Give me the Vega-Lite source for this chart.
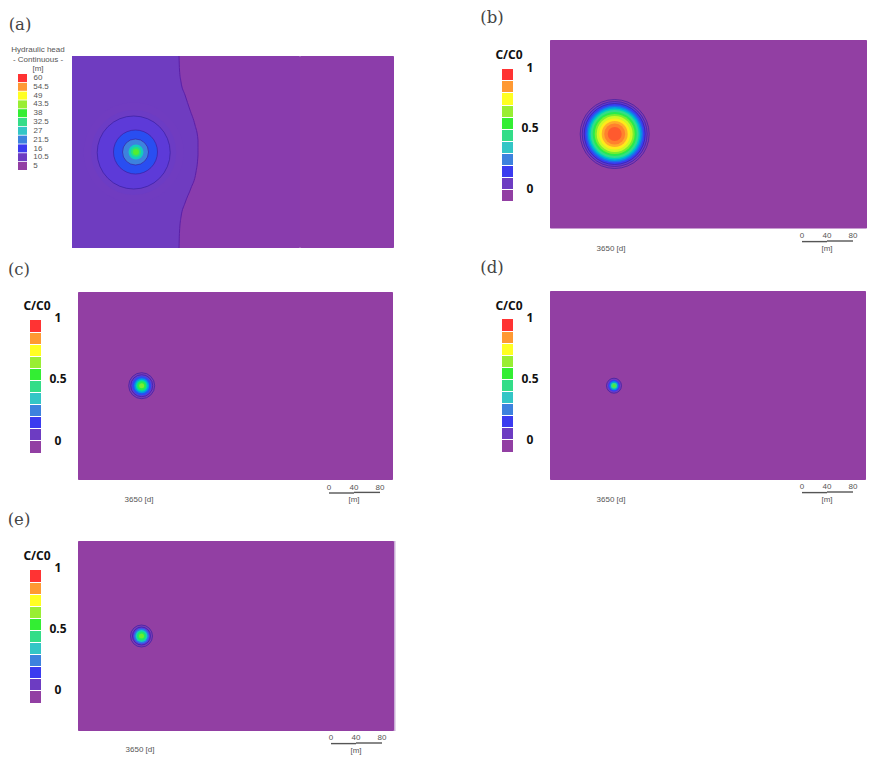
{"$schema":"https://vega.github.io/schema/vega-lite/v6.json","width":875,"height":759,"padding":0,"autosize":{"type":"fit","contains":"padding"},"background":"white","config":{"view":{"stroke":null}},
"datasets":{
"panels":[
{"panel":"a","x":72,"x2":300,"y":56,"y2":248,"level":0.035},
{"panel":"a","x":300,"x2":394,"y":56,"y2":248,"level":0.025},
{"panel":"b","x":550,"x2":867,"y":40,"y2":228.5,"level":0},
{"panel":"c","x":78,"x2":393,"y":292,"y2":480,"level":0},
{"panel":"d","x":550,"x2":866,"y":291,"y2":480,"level":0},
{"panel":"e","x":78,"x2":394,"y":541,"y2":731,"level":0}],
"edge":[{"panel":"e","x":394,"x2":395.5,"y":541,"y2":731}],
"boundary":[
{"x":179,"left":72,"y":56},{"x":179.5,"left":72,"y":70},{"x":181,"left":72,"y":82},{"x":185,"left":72,"y":95},{"x":190,"left":72,"y":110},{"x":195,"left":72,"y":125},{"x":198,"left":72,"y":140},{"x":198,"left":72,"y":155},{"x":196,"left":72,"y":172},{"x":191,"left":72,"y":188},{"x":185,"left":72,"y":203},{"x":181,"left":72,"y":217},{"x":179.5,"left":72,"y":232},{"x":179,"left":72,"y":248}],
"rings":[
{"panel":"a","x":133.7,"y":152.5,"d":100,"level":0.095},
{"panel":"a","x":133.7,"y":152.5,"d":85,"level":0.105},
{"panel":"a","x":133.7,"y":152.5,"d":73,"level":0.15},
{"panel":"a","x":135.5,"y":152,"d":44,"level":0.22},
{"panel":"a","x":135.5,"y":152,"d":26,"level":0.3},
{"panel":"a","x":136,"y":152,"d":15,"level":0.42},
{"panel":"a","x":136,"y":152,"d":10,"level":0.52},
{"panel":"a","x":136,"y":152,"d":6,"level":0.62},
{"panel":"b","x":614.7,"y":134,"d":69,"level":0.05},
{"panel":"b","x":614.7,"y":134,"d":65,"level":0.13},
{"panel":"b","x":614.7,"y":134,"d":61,"level":0.2},
{"panel":"b","x":614.7,"y":134,"d":57,"level":0.26},
{"panel":"b","x":614.7,"y":134,"d":54,"level":0.34},
{"panel":"b","x":614.7,"y":134,"d":51,"level":0.43},
{"panel":"b","x":614.7,"y":134,"d":48,"level":0.5},
{"panel":"b","x":614.7,"y":134,"d":44,"level":0.58},
{"panel":"b","x":614.7,"y":134,"d":40,"level":0.66},
{"panel":"b","x":614.7,"y":134,"d":36,"level":0.75},
{"panel":"b","x":614.7,"y":134,"d":31,"level":0.82},
{"panel":"b","x":614.7,"y":134,"d":26,"level":0.88},
{"panel":"b","x":614.7,"y":134,"d":21,"level":0.93},
{"panel":"b","x":614.7,"y":134,"d":14,"level":0.97},
{"panel":"c","x":141.7,"y":385.7,"d":26,"level":0.07},
{"panel":"c","x":141.7,"y":385.7,"d":22,"level":0.14},
{"panel":"c","x":141.7,"y":385.7,"d":19,"level":0.22},
{"panel":"c","x":141.7,"y":385.7,"d":15,"level":0.33},
{"panel":"c","x":141.7,"y":385.7,"d":12,"level":0.45},
{"panel":"c","x":141.7,"y":385.7,"d":9,"level":0.58},
{"panel":"c","x":141.7,"y":385.7,"d":5,"level":0.66},
{"panel":"d","x":614,"y":385.7,"d":15,"level":0.08},
{"panel":"d","x":614,"y":385.7,"d":12,"level":0.2},
{"panel":"d","x":614,"y":385.7,"d":9,"level":0.33},
{"panel":"d","x":614,"y":385.7,"d":6,"level":0.5},
{"panel":"d","x":614,"y":385.7,"d":3,"level":0.62},
{"panel":"e","x":141.5,"y":636,"d":22,"level":0.07},
{"panel":"e","x":141.5,"y":636,"d":18,"level":0.16},
{"panel":"e","x":141.5,"y":636,"d":15,"level":0.28},
{"panel":"e","x":141.5,"y":636,"d":12,"level":0.42},
{"panel":"e","x":141.5,"y":636,"d":9,"level":0.55},
{"panel":"e","x":141.5,"y":636,"d":5,"level":0.64}],
"contours":[
{"panel":"a","x":133.7,"y":152.5,"d":73},{"panel":"a","x":135.5,"y":152,"d":44},{"panel":"a","x":135.5,"y":152,"d":26},
{"panel":"b","x":614.7,"y":134,"d":69},{"panel":"b","x":614.7,"y":134,"d":65},{"panel":"b","x":614.7,"y":134,"d":61},
{"panel":"c","x":141.7,"y":385.7,"d":26},{"panel":"c","x":141.7,"y":385.7,"d":22},
{"panel":"d","x":614,"y":385.7,"d":15},
{"panel":"e","x":141.5,"y":636,"d":22},{"panel":"e","x":141.5,"y":636,"d":18}],
"swatches":[
{"x":18,"x2":27,"y":74,"y2":82,"level":1},{"x":18,"x2":27,"y":82.8,"y2":90.8,"level":0.9},{"x":18,"x2":27,"y":91.6,"y2":99.6,"level":0.8},{"x":18,"x2":27,"y":100.4,"y2":108.4,"level":0.7},{"x":18,"x2":27,"y":109.2,"y2":117.2,"level":0.6},{"x":18,"x2":27,"y":118,"y2":126,"level":0.5},{"x":18,"x2":27,"y":126.8,"y2":134.8,"level":0.4},{"x":18,"x2":27,"y":135.6,"y2":143.6,"level":0.3},{"x":18,"x2":27,"y":144.4,"y2":152.4,"level":0.2},{"x":18,"x2":27,"y":153.2,"y2":161.2,"level":0.1},{"x":18,"x2":27,"y":162,"y2":170,"level":0},
{"x":502,"x2":513,"y":69,"y2":80,"level":1},{"x":502,"x2":513,"y":81,"y2":92,"level":0.9},{"x":502,"x2":513,"y":93,"y2":105,"level":0.8},{"x":502,"x2":513,"y":106,"y2":117,"level":0.7},{"x":502,"x2":513,"y":118,"y2":129,"level":0.6},{"x":502,"x2":513,"y":130,"y2":141,"level":0.5},{"x":502,"x2":513,"y":142,"y2":153,"level":0.4},{"x":502,"x2":513,"y":154,"y2":165,"level":0.3},{"x":502,"x2":513,"y":166,"y2":177,"level":0.2},{"x":502,"x2":513,"y":178,"y2":189,"level":0.1},{"x":502,"x2":513,"y":190,"y2":201,"level":0},
{"x":30,"x2":41,"y":320,"y2":332,"level":1},{"x":30,"x2":41,"y":333,"y2":344,"level":0.9},{"x":30,"x2":41,"y":345,"y2":356,"level":0.8},{"x":30,"x2":41,"y":357,"y2":368,"level":0.7},{"x":30,"x2":41,"y":369,"y2":380,"level":0.6},{"x":30,"x2":41,"y":381,"y2":392,"level":0.5},{"x":30,"x2":41,"y":393,"y2":404,"level":0.4},{"x":30,"x2":41,"y":405,"y2":416,"level":0.3},{"x":30,"x2":41,"y":417,"y2":428,"level":0.2},{"x":30,"x2":41,"y":429,"y2":440,"level":0.1},{"x":30,"x2":41,"y":441,"y2":453,"level":0},
{"x":502,"x2":513,"y":319,"y2":331,"level":1},{"x":502,"x2":513,"y":332,"y2":343,"level":0.9},{"x":502,"x2":513,"y":344,"y2":355,"level":0.8},{"x":502,"x2":513,"y":356,"y2":367,"level":0.7},{"x":502,"x2":513,"y":368,"y2":379,"level":0.6},{"x":502,"x2":513,"y":380,"y2":391,"level":0.5},{"x":502,"x2":513,"y":392,"y2":403,"level":0.4},{"x":502,"x2":513,"y":404,"y2":415,"level":0.3},{"x":502,"x2":513,"y":416,"y2":427,"level":0.2},{"x":502,"x2":513,"y":428,"y2":439,"level":0.1},{"x":502,"x2":513,"y":440,"y2":452,"level":0},
{"x":30,"x2":41,"y":570,"y2":582,"level":1},{"x":30,"x2":41,"y":583,"y2":594,"level":0.9},{"x":30,"x2":41,"y":595,"y2":606,"level":0.8},{"x":30,"x2":41,"y":607,"y2":618,"level":0.7},{"x":30,"x2":41,"y":619,"y2":630,"level":0.6},{"x":30,"x2":41,"y":631,"y2":642,"level":0.5},{"x":30,"x2":41,"y":643,"y2":654,"level":0.4},{"x":30,"x2":41,"y":655,"y2":666,"level":0.3},{"x":30,"x2":41,"y":667,"y2":678,"level":0.2},{"x":30,"x2":41,"y":679,"y2":690,"level":0.1},{"x":30,"x2":41,"y":691,"y2":703,"level":0}],
"bars":[
{"x":802,"x2":827,"y":241.6},{"x":827,"x2":853,"y":241},
{"x":329,"x2":354,"y":493},{"x":354,"x2":380,"y":492.4},
{"x":802,"x2":827,"y":492.6},{"x":827,"x2":853,"y":492},
{"x":331,"x2":356,"y":743.6},{"x":356,"x2":382,"y":743}],
"tags":[
{"x":20,"y":25,"t":"(a)"},{"x":492,"y":18,"t":"(b)"},{"x":19,"y":270,"t":"(c)"},{"x":492,"y":268,"t":"(d)"},{"x":19,"y":520,"t":"(e)"}],
"bold":[
{"x":509,"y":55,"t":"C/C0"},{"x":530,"y":68,"t":"1"},{"x":530,"y":128,"t":"0.5"},{"x":530,"y":189,"t":"0"},
{"x":37,"y":306,"t":"C/C0"},{"x":58,"y":318,"t":"1"},{"x":58,"y":379,"t":"0.5"},{"x":58,"y":441,"t":"0"},
{"x":509,"y":306,"t":"C/C0"},{"x":530,"y":318,"t":"1"},{"x":530,"y":379,"t":"0.5"},{"x":530,"y":440,"t":"0"},
{"x":37,"y":556,"t":"C/C0"},{"x":58,"y":568,"t":"1"},{"x":58,"y":629,"t":"0.5"},{"x":58,"y":690,"t":"0"}],
"small":[
{"x":38,"y":50,"t":"Hydraulic head"},{"x":38,"y":60,"t":"- Continuous -"},{"x":38,"y":69,"t":"[m]"},
{"x":38,"y":78,"t":"60"},{"x":41,"y":87,"t":"54.5"},{"x":38,"y":95.5,"t":"49"},{"x":41,"y":104,"t":"43.5"},{"x":38,"y":113,"t":"38"},{"x":41,"y":122,"t":"32.5"},{"x":38,"y":131,"t":"27"},{"x":41,"y":139.5,"t":"21.5"},{"x":38,"y":148.5,"t":"16"},{"x":41,"y":157,"t":"10.5"},{"x":35.5,"y":166,"t":"5"},
{"x":611,"y":249,"t":"3650 [d]"},{"x":139,"y":500,"t":"3650 [d]"},{"x":611,"y":500,"t":"3650 [d]"},{"x":140,"y":750,"t":"3650 [d]"},
{"x":802,"y":236,"t":"0"},{"x":827,"y":236,"t":"40"},{"x":853,"y":236,"t":"80"},{"x":827,"y":249,"t":"[m]"},
{"x":329,"y":488,"t":"0"},{"x":354,"y":488,"t":"40"},{"x":380,"y":488,"t":"80"},{"x":354,"y":500,"t":"[m]"},
{"x":802,"y":487,"t":"0"},{"x":827,"y":487,"t":"40"},{"x":853,"y":487,"t":"80"},{"x":827,"y":500,"t":"[m]"},
{"x":331,"y":738,"t":"0"},{"x":356,"y":738,"t":"40"},{"x":382,"y":738,"t":"80"},{"x":356,"y":751,"t":"[m]"}]
},
"layer":[
{"data":{"name":"panels"},"mark":{"type":"rect","cornerRadius":1},"encoding":{
"x":{"field":"x","type":"quantitative","axis":null,"scale":{"domain":[0,875],"nice":false,"zero":false}},
"y":{"field":"y","type":"quantitative","axis":null,"scale":{"domain":[759,0],"nice":false,"zero":false}},
"x2":{"field":"x2"},"y2":{"field":"y2"},
"color":{"field":"level","type":"quantitative","legend":null,"scale":{"domain":[0,0.1,0.2,0.3,0.4,0.5,0.6,0.7,0.8,0.9,1],"range":["#923fa3","#6d3cc2","#3b3bf0","#3d82de","#33c6c6","#33dd88","#33ee33","#99ee33","#ffff22","#ff9933","#ff3333"]}}}},
{"data":{"name":"edge"},"mark":{"type":"rect","color":"#c9aed6"},"encoding":{"x":{"field":"x","type":"quantitative"},"y":{"field":"y","type":"quantitative"},"x2":{"field":"x2"},"y2":{"field":"y2"}}},
{"data":{"name":"boundary"},"mark":{"type":"area","orient":"horizontal","color":"#6f3cc0","opacity":1,"interpolate":"monotone"},"encoding":{"y":{"field":"y","type":"quantitative"},"x":{"field":"left","type":"quantitative","stack":null},"x2":{"field":"x"}}},
{"data":{"name":"boundary"},"mark":{"type":"line","color":"#5a20a8","strokeWidth":1,"interpolate":"monotone"},"encoding":{"x":{"field":"x","type":"quantitative"},"y":{"field":"y","type":"quantitative"},"order":{"field":"y","type":"quantitative"}}},
{"data":{"name":"rings"},"mark":{"type":"circle","opacity":1},"encoding":{"x":{"field":"x","type":"quantitative"},"y":{"field":"y","type":"quantitative"},"size":{"field":"d","type":"quantitative","legend":null,"scale":{"type":"pow","exponent":2,"domain":[0,100],"range":[0,10000]}},"color":{"field":"level","type":"quantitative","legend":null}}},
{"data":{"name":"contours"},"mark":{"type":"point","shape":"circle","filled":false,"opacity":1,"color":"#3a1fa0","strokeWidth":0.7},"encoding":{"x":{"field":"x","type":"quantitative"},"y":{"field":"y","type":"quantitative"},"size":{"field":"d","type":"quantitative","legend":null,"scale":{"type":"pow","exponent":2,"domain":[0,100],"range":[0,10000]}}}},
{"data":{"name":"swatches"},"mark":{"type":"rect"},"encoding":{"x":{"field":"x","type":"quantitative"},"y":{"field":"y","type":"quantitative"},"x2":{"field":"x2"},"y2":{"field":"y2"},"color":{"field":"level","type":"quantitative","legend":null}}},
{"data":{"name":"bars"},"mark":{"type":"rule","color":"#555555","strokeWidth":1.4},"encoding":{"x":{"field":"x","type":"quantitative"},"y":{"field":"y","type":"quantitative"},"x2":{"field":"x2"}}},
{"data":{"name":"tags"},"mark":{"type":"text","font":"DejaVu Serif","fontSize":16.5,"color":"#444444","align":"center","baseline":"middle"},"encoding":{"x":{"field":"x","type":"quantitative"},"y":{"field":"y","type":"quantitative"},"text":{"field":"t"}}},
{"data":{"name":"bold"},"mark":{"type":"text","font":"Noto Sans","fontWeight":"bold","fontSize":12,"color":"#111111","align":"center","baseline":"middle"},"encoding":{"x":{"field":"x","type":"quantitative"},"y":{"field":"y","type":"quantitative"},"text":{"field":"t"}}},
{"data":{"name":"small"},"mark":{"type":"text","font":"Liberation Sans","fontSize":8,"color":"#555555","align":"center","baseline":"middle"},"encoding":{"x":{"field":"x","type":"quantitative"},"y":{"field":"y","type":"quantitative"},"text":{"field":"t"}}}
]}
